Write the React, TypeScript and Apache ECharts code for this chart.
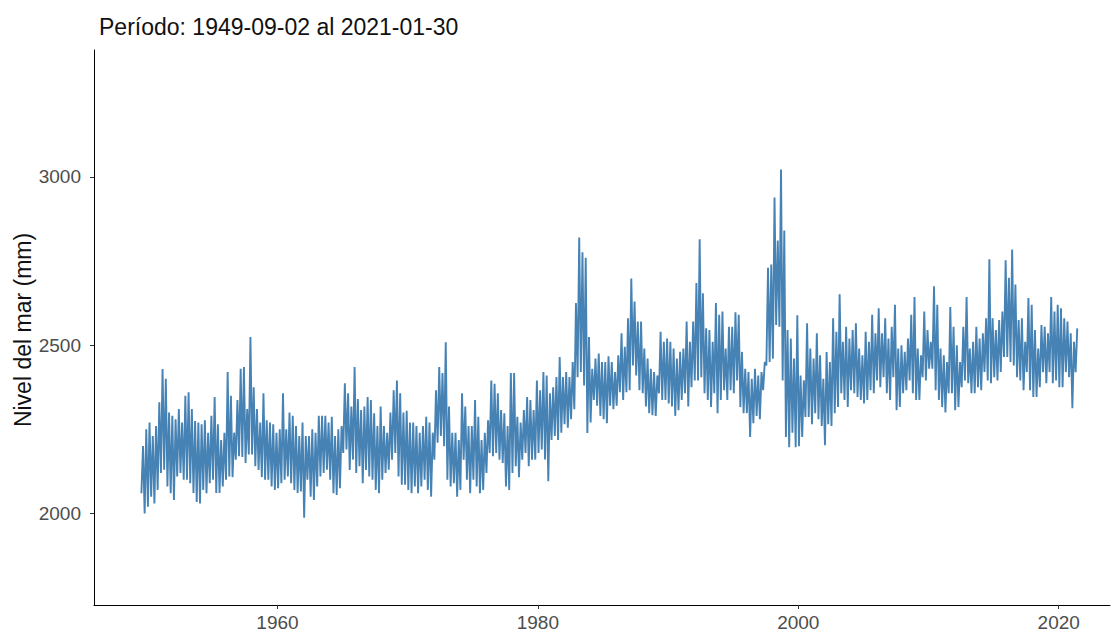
import React, { useEffect, useRef } from "react";
import * as echarts from "echarts";

// Sea level record, summarised per calendar quarter (lowest and highest level, mm).
// Quarters start at Q3 1949; each row below is one year.
const firstQuarterStart = 1949.5;

const quarterHigh: number[] = [
  2200, 2250, // 1949 (Q3, Q4)
  2270, 2230, 2260, 2330, // 1950
  2429, 2400, 2300, 2290, // 1951
  2280, 2310, 2270, 2350, // 1952
  2360, 2310, 2275, 2270, // 1953
  2265, 2277, 2240, 2290, // 1954
  2346, 2265, 2218, 2240, // 1955
  2420, 2350, 2240, 2337, // 1956
  2430, 2435, 2310, 2524, // 1957
  2375, 2310, 2270, 2357, // 1958
  2277, 2270, 2265, 2240, // 1959
  2250, 2357, 2250, 2300, // 1960
  2290, 2260, 2230, 2270, // 1961
  2230, 2230, 2250, 2240, // 1962
  2290, 2290, 2290, 2270, // 1963
  2287, 2230, 2250, 2260, // 1964
  2387, 2357, 2318, 2435, // 1965
  2340, 2307, 2318, 2346, // 1966
  2337, 2298, 2260, 2318, // 1967
  2260, 2240, 2300, 2366, // 1968
  2395, 2357, 2300, 2305, // 1969
  2270, 2270, 2260, 2240, // 1970
  2260, 2287, 2270, 2240, // 1971
  2366, 2435, 2417, 2509, // 1972
  2318, 2240, 2240, 2218, // 1973
  2357, 2318, 2260, 2260, // 1974
  2337, 2287, 2218, 2240, // 1975
  2277, 2395, 2385, 2357, // 1976
  2307, 2298, 2260, 2417, // 1977
  2417, 2287, 2270, 2307, // 1978
  2346, 2337, 2307, 2395, // 1979
  2366, 2420, 2410, 2357, // 1980
  2375, 2405, 2465, 2405, // 1981
  2420, 2405, 2450, 2625, // 1982
  2820, 2776, 2760, 2524, // 1983
  2430, 2460, 2475, 2450, // 1984
  2450, 2467, 2450, 2420, // 1985
  2470, 2535, 2495, 2580, // 1986
  2698, 2630, 2570, 2570, // 1987
  2490, 2460, 2430, 2420, // 1988
  2410, 2540, 2510, 2520, // 1989
  2510, 2490, 2460, 2480, // 1990
  2490, 2570, 2510, 2570, // 1991
  2685, 2815, 2654, 2550, // 1992
  2545, 2510, 2625, 2590, // 1993
  2600, 2490, 2555, 2555, // 1994
  2598, 2590, 2480, 2430, // 1995
  2420, 2400, 2430, 2410, // 1996
  2420, 2450, 2730, 2740, // 1997
  2939, 2811, 3022, 2841, // 1998
  2545, 2520, 2460, 2589, // 1999
  2410, 2396, 2565, 2490, // 2000
  2460, 2535, 2470, 2400, // 2001
  2480, 2450, 2580, 2540, // 2002
  2651, 2510, 2555, 2520, // 2003
  2545, 2565, 2490, 2470, // 2004
  2540, 2510, 2590, 2535, // 2005
  2610, 2535, 2580, 2520, // 2006
  2555, 2620, 2490, 2500, // 2007
  2480, 2520, 2590, 2643, // 2008
  2490, 2470, 2600, 2545, // 2009
  2510, 2675, 2620, 2490, // 2010
  2470, 2450, 2613, 2555, // 2011
  2500, 2450, 2555, 2643, // 2012
  2490, 2510, 2555, 2520, // 2013
  2535, 2580, 2755, 2580, // 2014
  2545, 2575, 2600, 2752, // 2015
  2700, 2784, 2680, 2575, // 2016
  2580, 2510, 2640, 2620, // 2017
  2545, 2490, 2560, 2555, // 2018
  2535, 2643, 2600, 2620, // 2019
  2610, 2580, 2570, 2535, // 2020
  2510, 2550, // 2021
];

const quarterLow: number[] = [
  2060, 2000, // 1949 (Q3, Q4)
  2020, 2050, 2030, 2070, // 1950
  2120, 2130, 2080, 2060, // 1951
  2040, 2110, 2120, 2100, // 1952
  2100, 2090, 2061, 2034, // 1953
  2030, 2070, 2060, 2090, // 1954
  2100, 2061, 2061, 2080, // 1955
  2100, 2110, 2108, 2160, // 1956
  2170, 2168, 2150, 2175, // 1957
  2175, 2140, 2129, 2108, // 1958
  2100, 2100, 2080, 2070, // 1959
  2075, 2090, 2100, 2110, // 1960
  2090, 2070, 2061, 2065, // 1961
  1987, 2100, 2050, 2040, // 1962
  2080, 2110, 2120, 2130, // 1963
  2100, 2060, 2055, 2075, // 1964
  2180, 2190, 2129, 2160, // 1965
  2120, 2140, 2090, 2129, // 1966
  2110, 2100, 2070, 2060, // 1967
  2100, 2120, 2130, 2160, // 1968
  2180, 2110, 2085, 2085, // 1969
  2070, 2060, 2080, 2060, // 1970
  2080, 2100, 2070, 2050, // 1971
  2160, 2210, 2230, 2200, // 1972
  2100, 2080, 2090, 2050, // 1973
  2070, 2160, 2100, 2060, // 1974
  2100, 2080, 2060, 2070, // 1975
  2120, 2180, 2170, 2180, // 1976
  2160, 2150, 2080, 2070, // 1977
  2120, 2140, 2108, 2160, // 1978
  2180, 2140, 2160, 2160, // 1979
  2180, 2190, 2160, 2096, // 1980
  2218, 2230, 2218, 2240, // 1981
  2265, 2255, 2280, 2310, // 1982
  2405, 2420, 2380, 2239, // 1983
  2270, 2337, 2320, 2290, // 1984
  2280, 2268, 2320, 2310, // 1985
  2320, 2360, 2337, 2360, // 1986
  2366, 2440, 2410, 2366, // 1987
  2357, 2318, 2298, 2292, // 1988
  2290, 2357, 2337, 2337, // 1989
  2327, 2318, 2290, 2307, // 1990
  2337, 2357, 2318, 2375, // 1991
  2395, 2395, 2405, 2357, // 1992
  2337, 2316, 2357, 2298, // 1993
  2337, 2366, 2337, 2366, // 1994
  2357, 2395, 2316, 2298, // 1995
  2298, 2227, 2268, 2290, // 1996
  2280, 2366, 2440, 2450, // 1997
  2460, 2560, 2555, 2395, // 1998
  2227, 2197, 2240, 2197, // 1999
  2200, 2227, 2287, 2287, // 2000
  2265, 2298, 2280, 2260, // 2001
  2203, 2265, 2260, 2298, // 2002
  2316, 2357, 2337, 2316, // 2003
  2366, 2357, 2346, 2337, // 2004
  2327, 2337, 2366, 2357, // 2005
  2395, 2375, 2405, 2357, // 2006
  2337, 2405, 2307, 2316, // 2007
  2357, 2366, 2395, 2357, // 2008
  2337, 2337, 2405, 2395, // 2009
  2430, 2430, 2366, 2337, // 2010
  2316, 2300, 2357, 2357, // 2011
  2307, 2316, 2375, 2395, // 2012
  2387, 2357, 2357, 2375, // 2013
  2366, 2420, 2395, 2387, // 2014
  2405, 2395, 2420, 2465, // 2015
  2465, 2450, 2440, 2405, // 2016
  2395, 2366, 2420, 2366, // 2017
  2346, 2346, 2375, 2420, // 2018
  2387, 2420, 2387, 2395, // 2019
  2375, 2375, 2420, 2405, // 2020
  2313, 2420, // 2021
];

const xTickYears = [1960, 1980, 2000, 2020];
const yTickLevels = [2000, 2500, 3000];

const subtitle = "Período: 1949-09-02 al 2021-01-30";
const yTitle = "Nivel del mar (mm)";

// Each quarter contributes its low and its high in turn, tracing the daily swing.
function buildSeries(): number[][] {
  const pts: number[][] = [];
  for (let i = 0; i < quarterHigh.length; i++) {
    const t0 = firstQuarterStart + i * 0.25;
    pts.push([t0 + 0.05, quarterLow[i]]);
    pts.push([t0 + 0.175, quarterHigh[i]]);
  }
  return pts;
}

const FONT = "'Liberation Sans', Arial, sans-serif";

export default function App() {
  const ref = useRef<HTMLDivElement>(null);

  useEffect(() => {
    document.body.style.margin = "0";
    if (!ref.current) return;
    const chart = echarts.init(ref.current, undefined, { renderer: "svg" });
    chart.setOption({
      animation: false,
      backgroundColor: "#ffffff",
      textStyle: { fontFamily: FONT },
      title: {
        text: subtitle,
        left: 94,
        top: 10,
        textStyle: {
          fontFamily: FONT,
          fontSize: 23,
          fontWeight: "normal",
          color: "#111111",
        },
      },
      grid: { left: 94, right: 3, top: 50, bottom: 30, containLabel: false },
      xAxis: {
        type: "value",
        min: 1945.91,
        max: 2023.94,
        splitLine: { show: false },
        axisLine: { show: true, lineStyle: { color: "#000000", width: 1 } },
        axisTick: {
          show: true,
          length: 4,
          customValues: xTickYears,
          lineStyle: { color: "#333333", width: 1 },
        },
        axisLabel: {
          customValues: xTickYears,
          color: "#4d4d4d",
          fontSize: 19,
          fontFamily: FONT,
          margin: 8,
          formatter: (v: number) => String(Math.round(v)),
        },
      },
      yAxis: {
        type: "value",
        min: 1728,
        max: 3377,
        splitLine: { show: false },
        axisLine: { show: true, lineStyle: { color: "#000000", width: 1 } },
        axisTick: {
          show: true,
          length: 4,
          customValues: yTickLevels,
          lineStyle: { color: "#333333", width: 1 },
        },
        axisLabel: {
          customValues: yTickLevels,
          color: "#4d4d4d",
          fontSize: 19,
          fontFamily: FONT,
          margin: 13,
          formatter: (v: number) => String(Math.round(v)),
        },
      },
      graphic: [
        {
          type: "text",
          x: 23,
          y: 330,
          rotation: Math.PI / 2,
          style: {
            text: yTitle,
            fontSize: 23,
            fontFamily: FONT,
            fill: "#111111",
            textAlign: "center",
            textVerticalAlign: "middle",
          },
        },
      ],
      series: [
        {
          type: "line",
          data: buildSeries(),
          showSymbol: false,
          symbol: "none",
          lineStyle: { color: "#4682B4", width: 1.9, join: "miter", miterLimit: 2 },
          silent: true,
        },
      ],
    });
    return () => chart.dispose();
  }, []);

  return <div ref={ref} style={{ width: 1113, height: 635 }} />;
}
